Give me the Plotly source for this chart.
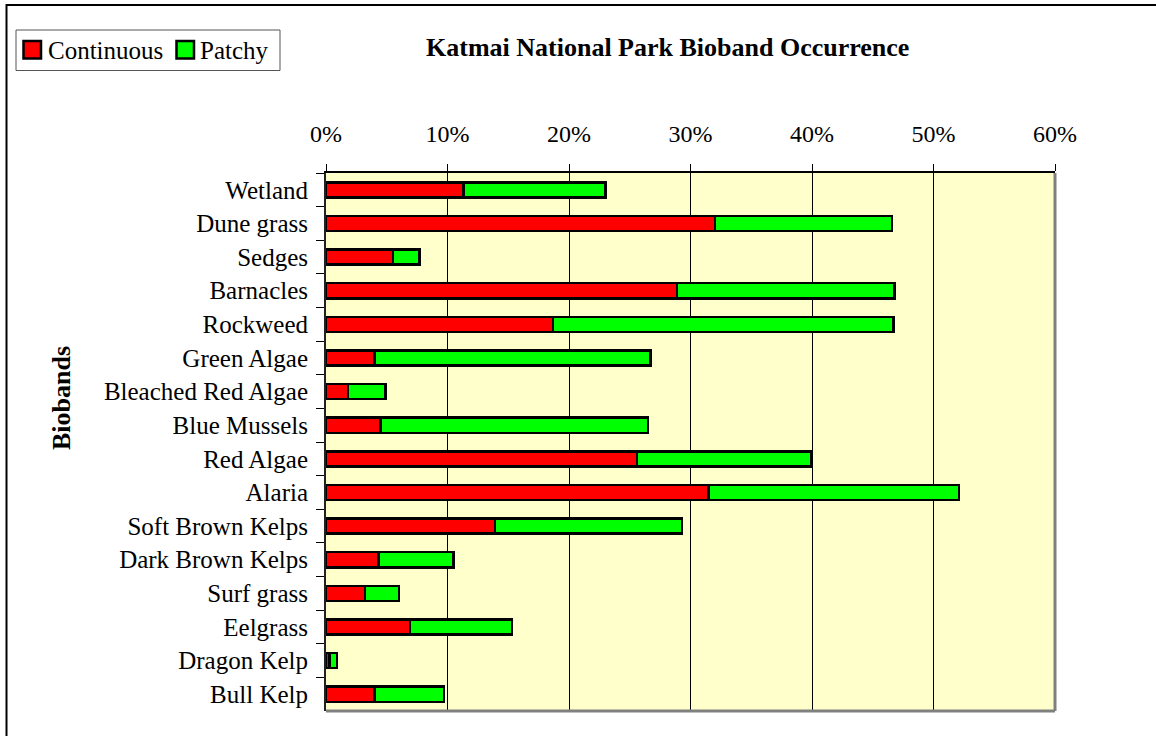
import plotly.graph_objects as go

categories = ["Wetland", "Dune grass", "Sedges", "Barnacles", "Rockweed", "Green Algae",
              "Bleached Red Algae", "Blue Mussels", "Red Algae", "Alaria", "Soft Brown Kelps",
              "Dark Brown Kelps", "Surf grass", "Eelgrass", "Dragon Kelp", "Bull Kelp"]
continuous = [0.113, 0.320, 0.055, 0.289, 0.187, 0.040, 0.018, 0.045, 0.256, 0.315, 0.139,
              0.043, 0.032, 0.069, 0.003, 0.040]
patchy = [0.117, 0.146, 0.022, 0.179, 0.280, 0.227, 0.031, 0.220, 0.143, 0.206, 0.154,
          0.062, 0.028, 0.084, 0.006, 0.057]
x_ticks = [0, 0.1, 0.2, 0.3, 0.4, 0.5, 0.6]
series_names = ["Continuous", "Patchy"]
series_colors = ["#FF0000", "#00FF00"]

FONT = "Liberation Serif, Times New Roman, serif"

fig = go.Figure()
for name, vals, col in zip(series_names, [continuous, patchy], series_colors):
    fig.add_trace(go.Bar(y=categories, x=vals, name=name, orientation="h",
                         marker=dict(color=col, line=dict(color="black", width=2.5))))

W, H = 1156, 736
L, R, T, B = 326, 101, 173, 25
pw, ph = W - L - R, H - T - B

def px_x(p):
    return (p - L) / pw

def px_y(p):
    return (H - B - p) / ph

shapes = [
    dict(type="line", xref="paper", yref="paper", x0=1, x1=1, y0=0, y1=1,
         line=dict(color="#808080", width=3)),
    dict(type="line", xref="paper", yref="paper", x0=0, x1=1, y0=0, y1=0,
         line=dict(color="#808080", width=3)),
    dict(type="rect", xref="paper", yref="paper", x0=px_x(6.5), x1=px_x(1170),
         y0=px_y(750), y1=px_y(5), line=dict(color="black", width=2)),
    # legend box
    dict(type="rect", xref="paper", yref="paper", x0=px_x(16), x1=px_x(280),
         y0=px_y(70.5), y1=px_y(30), line=dict(color="#555555", width=1),
         fillcolor="white"),
]
annotations = [
    dict(text="<b>Katmai National Park Bioband Occurrence</b>", xref="paper", yref="paper",
         x=px_x(667), y=px_y(48), xanchor="center", yanchor="middle", showarrow=False,
         font=dict(family=FONT, size=26)),
    dict(text="<b>Biobands</b>", xref="paper", yref="paper", textangle=-90,
         x=px_x(61), y=px_y(398), xanchor="center", yanchor="middle", showarrow=False,
         font=dict(family=FONT, size=26)),
]
# legend entries
sw_x = [23.5, 176.5]
tx_x = [46, 198]
for name, col, sx, tx in zip(series_names, series_colors, sw_x, tx_x):
    shapes.append(dict(type="rect", xref="paper", yref="paper", x0=px_x(sx), x1=px_x(sx + 17.5),
                       y0=px_y(58.5), y1=px_y(41), fillcolor=col,
                       line=dict(color="black", width=2.5)))
    annotations.append(dict(text=name, xref="paper", yref="paper", x=px_x(tx), y=px_y(50),
                            xanchor="left", yanchor="middle", showarrow=False,
                            font=dict(family=FONT, size=25)))

fig.update_layout(
    width=W, height=H,
    margin=dict(l=L, r=R, t=T, b=B, pad=0),
    barmode="stack", bargap=0.55,
    paper_bgcolor="white", plot_bgcolor="#FFFFCC",
    font=dict(family=FONT, size=24, color="black"),
    showlegend=False,
    xaxis=dict(side="top", range=[0, 0.6], tickvals=x_ticks, tickformat=".0%",
               showgrid=True, gridcolor="black", gridwidth=1,
               ticks="outside", ticklen=7, tickcolor="black", tickwidth=1,
               showline=True, linecolor="black", linewidth=2,
               ticklabelstandoff=12, zeroline=False, fixedrange=True,
               tickfont=dict(family=FONT, size=24)),
    yaxis=dict(autorange="reversed", type="category", tickson="boundaries",
               ticks="outside", ticklen=8, tickcolor="black", tickwidth=1,
               showline=True, linecolor="#222222", linewidth=2,
               ticklabelstandoff=11, showgrid=False, fixedrange=True,
               tickfont=dict(family=FONT, size=25)),
    annotations=annotations,
    shapes=shapes,
)

fig.write_html("out.html", config={"displayModeBar": False},
               post_script="document.body.style.margin='0';")
